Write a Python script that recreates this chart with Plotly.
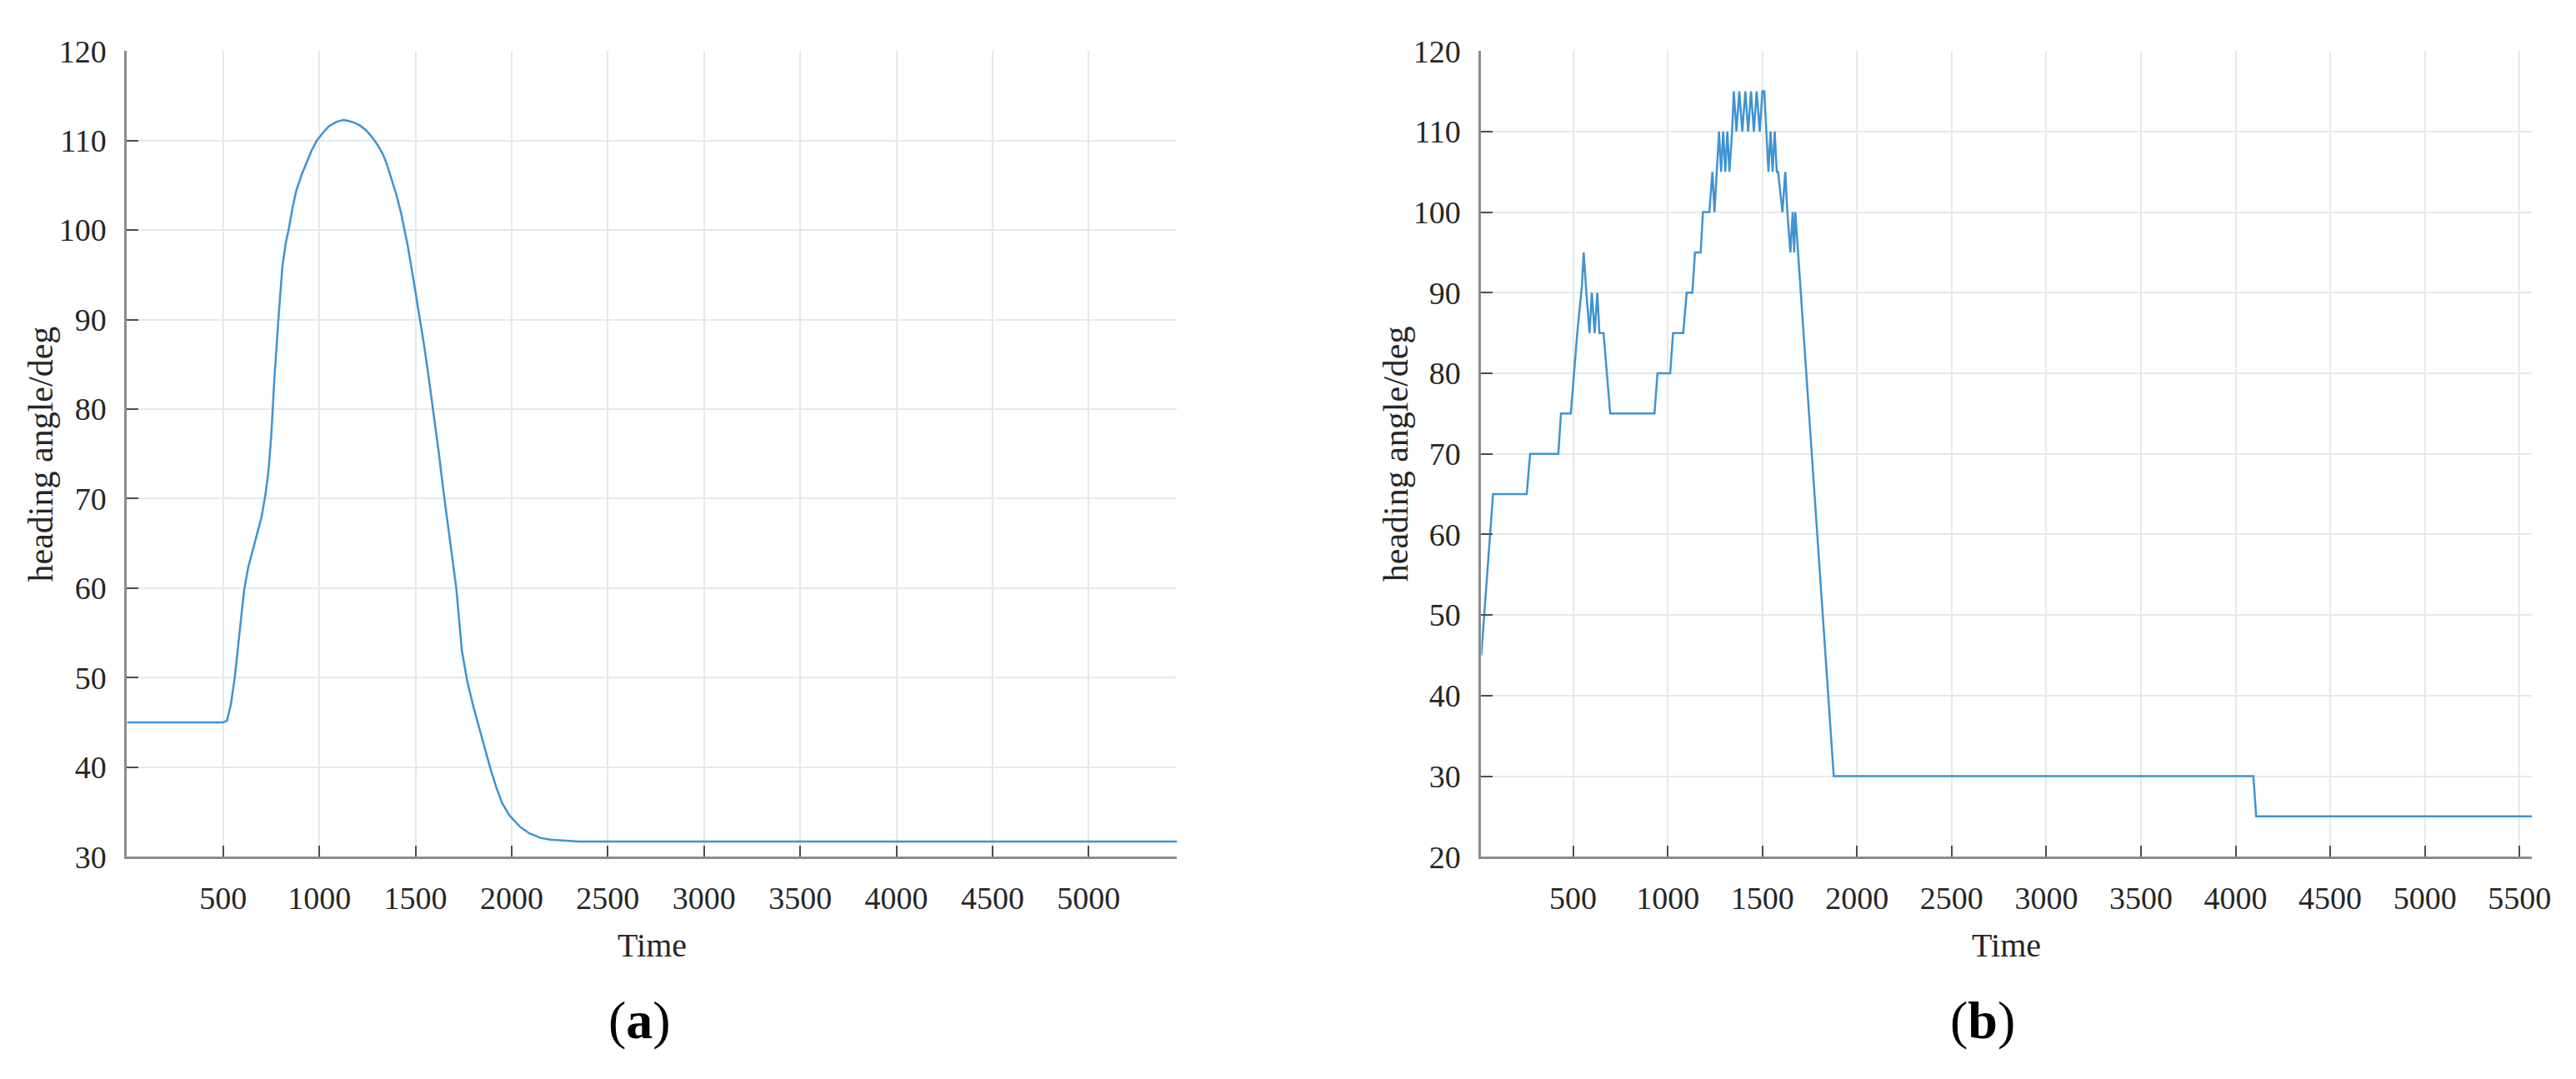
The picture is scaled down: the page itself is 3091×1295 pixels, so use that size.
import plotly.graph_objects as go

# ---------------- data ----------------
# (a) smooth heading response
time_a = [0, 100, 200, 300, 400, 500, 520, 540, 560, 585, 609, 630, 650, 675, 700, 720,
          735, 750, 765, 787, 808, 825, 840, 860, 880, 910, 937, 960, 987, 1020, 1050,
          1090, 1124, 1150, 1180, 1210, 1240, 1270, 1300, 1330, 1350, 1375, 1400, 1427,
          1460, 1492, 1520, 1547, 1570, 1591, 1620, 1646, 1680, 1712, 1741, 1770, 1803,
          1835, 1865, 1890, 1919, 1950, 1989, 2040, 2092, 2150, 2200, 2256, 2350, 2450,
          3000, 4000, 5000, 5460]
heading_a = [45, 45, 45, 45, 45, 45, 45.2, 47, 50, 55, 59.8, 62.3, 64, 66, 68, 70.5,
             73, 77, 83, 90, 96, 98.5, 100, 102.4, 104.4, 106.3, 107.7, 108.9, 110, 110.9, 111.6,
             112.1, 112.3, 112.2, 112, 111.7, 111.2, 110.5, 109.6, 108.5, 107.4, 105.8, 104, 101.7,
             98.2, 94.1, 90.5, 86.8, 83.3, 80, 75.3, 70.7, 65.2, 60, 53, 49.5, 46.6,
             44, 41.8, 39.8, 37.8, 36, 34.6, 33.4, 32.6, 32.1, 31.9, 31.8, 31.7, 31.7,
             31.7, 31.7, 31.7, 31.7]

# (b) stepped heading response
time_b = [15, 77, 255, 273, 422, 436, 488, 522, 547, 556, 570, 587, 599, 614, 628, 639,
          661, 696, 930, 946, 1013, 1028, 1082, 1100, 1130, 1144, 1174, 1186, 1220, 1236,
          1247, 1258, 1271, 1282, 1293, 1304, 1315, 1326, 1340, 1349, 1363, 1378, 1394,
          1410, 1425, 1440, 1455, 1470, 1486, 1500, 1510, 1521, 1532, 1543, 1554, 1565,
          1576, 1583, 1606, 1621, 1632, 1648, 1660, 1668, 1674, 1877, 4094, 4109, 5565]
heading_b = [45, 65, 65, 70, 70, 75, 75, 85, 91, 95, 90, 85, 90, 85, 90, 85,
             85, 75, 75, 80, 80, 85, 85, 90, 90, 95, 95, 100, 100, 105,
             100, 105, 110, 105, 110, 105, 110, 105, 110, 115, 110, 115, 110,
             115, 110, 115, 110, 115, 110, 115, 115, 110, 105, 110, 105, 110,
             105, 105, 100, 105, 100, 95, 100, 95, 100, 30, 30, 25, 25]

xticks_a = [500, 1000, 1500, 2000, 2500, 3000, 3500, 4000, 4500, 5000]
xticks_b = [500, 1000, 1500, 2000, 2500, 3000, 3500, 4000, 4500, 5000, 5500]
yticks_a = [30, 40, 50, 60, 70, 80, 90, 100, 110, 120]
yticks_b = [20, 30, 40, 50, 60, 70, 80, 90, 100, 110, 120]
panel_labels = ["a", "b"]
x_title = "Time"
y_title = "heading angle/deg"

# ---------------- figure ----------------
W, H = 3091, 1295
LINE = "#3f93d1"
FONT = "Liberation Serif"

fig = go.Figure()
fig.add_trace(go.Scatter(x=time_a, y=heading_a, mode="lines",
                         line=dict(color=LINE, width=2.5), xaxis="x", yaxis="y",
                         showlegend=False))
fig.add_trace(go.Scatter(x=time_b, y=heading_b, mode="lines",
                         line=dict(color=LINE, width=2.5, shape="linear"), xaxis="x2", yaxis="y2",
                         showlegend=False))

ydom = [1 - 1032.7 / H, 1 - 33.3 / H]
dom_a = [145.5 / W, 1415 / W]
dom_b = [1782.7 / W, 3052.7 / W]

common_x = dict(showline=True, linecolor="#8c8c8c", linewidth=3, mirror=False,
                ticks="inside", ticklen=13, tickwidth=2, tickcolor="#4d4d4d",
                showgrid=True, gridcolor="#e8e8e8", gridwidth=2, zeroline=False,
                tickfont=dict(family=FONT, size=38, color="#262626"),
                ticklabelstandoff=14)
common_y = dict(showline=True, linecolor="#8c8c8c", linewidth=3, mirror=False,
                ticks="inside", ticklen=14, tickwidth=2, tickcolor="#4d4d4d",
                showgrid=True, gridcolor="#e8e8e8", gridwidth=2, zeroline=False,
                tickfont=dict(family=FONT, size=38, color="#262626"),
                ticklabelstandoff=14)

fig.update_layout(
    width=W, height=H,
    margin=dict(l=0, r=0, t=0, b=0),
    paper_bgcolor="white", plot_bgcolor="white",
    xaxis=dict(domain=dom_a, range=[0, 5460], tickvals=xticks_a, anchor="y", **common_x),
    yaxis=dict(domain=ydom, range=[30, 120], tickvals=yticks_a, anchor="x", **common_y),
    xaxis2=dict(domain=dom_b, range=[15, 5565], tickvals=xticks_b, anchor="y2", **common_x),
    yaxis2=dict(domain=ydom, range=[20, 120], tickvals=yticks_b, anchor="x2", **common_y),
)

ann = []
label_y = 1 - 1236 / H
time_y = 1 - 1143 / H
ylab_y = 1 - 533 / H
for lab, cx, tx, yx in [(panel_labels[0], 765 / W, sum(dom_a) / 2, 41 / W),
                        (panel_labels[1], 2389 / W, sum(dom_b) / 2, 1679 / W)]:
    ann.append(dict(text="(<b>%s</b>)" % lab, x=cx, y=label_y, xref="paper", yref="paper",
                    showarrow=False, xanchor="center", yanchor="middle",
                    font=dict(family=FONT, size=64, color="black")))
    ann.append(dict(text=x_title, x=tx, y=time_y, xref="paper", yref="paper",
                    showarrow=False, xanchor="center", yanchor="middle",
                    font=dict(family=FONT, size=40, color="#262626")))
    ann.append(dict(text=y_title, x=yx, y=ylab_y, xref="paper", yref="paper",
                    showarrow=False, xanchor="center", yanchor="middle", textangle=-90,
                    font=dict(family=FONT, size=42, color="#262626")))
fig.update_layout(annotations=ann)

fig.write_html("out.html")
